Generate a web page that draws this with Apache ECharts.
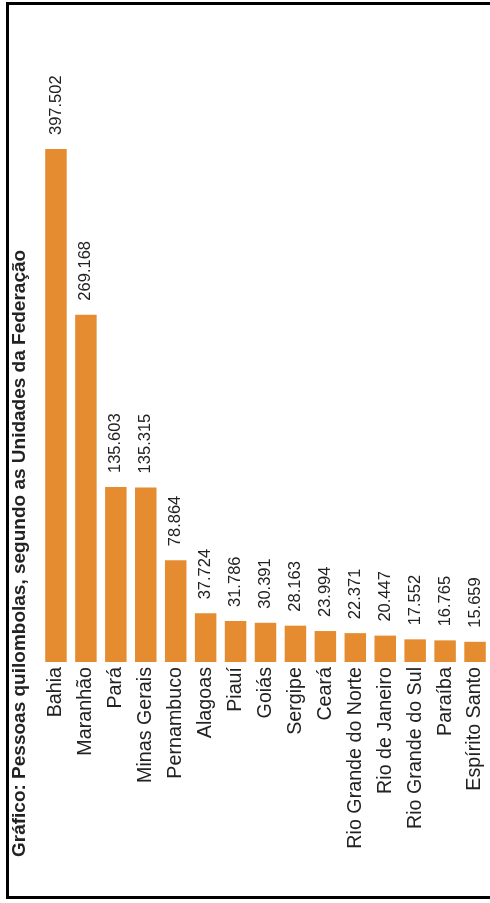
<!DOCTYPE html>
<html>
<head>
<meta charset="utf-8">
<script src="https://cdn.jsdelivr.net/npm/echarts@6/dist/echarts.min.js"></script>
<style>
html,body{margin:0;padding:0;background:#fff;overflow:hidden;}
#chart{width:490px;height:903px;}
</style>
</head>
<body>
<div id="chart"></div>
<script>
const titleText = 'Gráfico: Pessoas quilombolas, segundo as Unidades da Federação';
const categories = ['Bahia','Maranhão','Pará','Minas Gerais','Pernambuco','Alagoas','Piauí','Goiás','Sergipe','Ceará','Rio Grande do Norte','Rio de Janeiro','Rio Grande do Sul','Paraíba','Espírito Santo'];
const values = [397502,269168,135603,135315,78864,37724,31786,30391,28163,23994,22371,20447,17552,16765,15659];

function fmt(v){ return String(v).replace(/\B(?=(\d{3})+(?!\d))/g,'.'); }

const chart = echarts.init(document.getElementById('chart'), null, {renderer:'canvas'});
chart.setOption({
  animation:false,
  backgroundColor:'#fff',
  grid:{left:41, width:450, top:145.8, height:516.2, containLabel:false},
  xAxis:{
    type:'category', data:categories,
    axisLine:{show:false}, axisTick:{show:false},
    axisLabel:{rotate:90, margin:5, interval:0, color:'#222', fontSize:19.7, fontFamily:'Liberation Sans, Arial, sans-serif'}
  },
  yAxis:{type:'value', min:0, max:400000, show:false, splitLine:{show:false}},
  series:[{
    type:'bar', data:values, barWidth:21.5,
    itemStyle:{color:'#E68C30'},
    label:{show:true, position:'top', rotate:90, align:'left', verticalAlign:'middle', distance:14,
      color:'#222', fontSize:16.5, fontFamily:'Liberation Sans, Arial, sans-serif',
      formatter:p=>fmt(p.value)}
  }],
  graphic:[
    {type:'rect', shape:{x:7.5, y:3.5, width:500, height:894}, style:{fill:'none', stroke:'#000', lineWidth:3}, silent:true},
    {type:'text', x:20, y:857, rotation:Math.PI/2,
      style:{text:titleText, fill:'#222', font:'bold 19px "Liberation Sans", Arial, sans-serif', textAlign:'left', textVerticalAlign:'middle'}}
  ]
});
</script>
</body>
</html>
